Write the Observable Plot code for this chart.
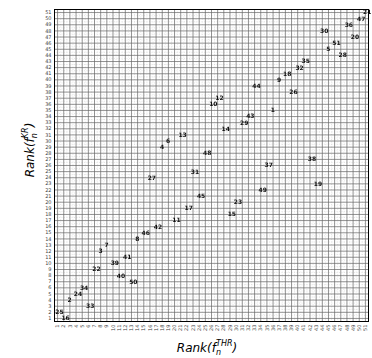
<!DOCTYPE html>
<html><head><meta charset="utf-8">
<script src="https://cdn.jsdelivr.net/npm/d3@7"></script>
<script src="https://cdn.jsdelivr.net/npm/@observablehq/plot@0.6"></script>
<style>body{margin:0;background:#fff} svg{display:block;font-family:"DejaVu Sans",sans-serif} .lbl{opacity:0.999;will-change:transform}</style>
</head><body><div id="chart"></div>
<script>
const ids = [1,2,3,4,5,6,7,8,9,10,11,12,13,14,15,16,17,18,19,20,21,22,23,24,25,26,27,28,29,30,31,32,33,34,35,36,37,38,39,40,41,42,43,44,45,46,47,48,49,50,51];
const rankTHR = [36,3,8,18,45,19,9,14,37,26,20,27,21,28,29,2,22,38,43,49,51,7,30,4,1,39,16,47,31,44,23,40,6,5,41,48,35,42,10,11,12,17,32,33,24,15,50,25,34,13,46];
const rankKR  = [35,4,12,29,45,30,13,14,40,36,17,37,31,32,18,1,19,41,23,47,51,9,20,5,2,38,24,44,33,48,25,42,3,6,43,49,26,27,10,8,11,16,34,39,21,15,50,28,22,7,46];
const tickValues = [1,2,3,4,5,6,7,8,9,10,11,12,13,14,15,16,17,18,19,20,21,22,23,24,25,26,27,28,29,30,31,32,33,34,35,36,37,38,39,40,41,42,43,44,45,46,47,48,49,50,51];
const minorValues = tickValues.slice(0,-1).map(v => v + 0.5);

const data = ids.map((id, i) => ({id, x: rankTHR[i], y: rankKR[i]}));

const chart = Plot.plot({
  width: 372, height: 358,
  marginLeft: 54, marginRight: 4, marginTop: 9, marginBottom: 37,
  style: {fontFamily: "DejaVu Sans", background: "#fff"},
  x: {domain: [0.5, 51.5], label: null},
  y: {domain: [0.5, 51.5], label: null},
  marks: [
    Plot.ruleX(minorValues, {stroke: "#ccc", strokeWidth: 0.5, strokeDasharray: "1,1.5"}),
    Plot.ruleY(minorValues, {stroke: "#ccc", strokeWidth: 0.5, strokeDasharray: "1,1.5"}),
    Plot.ruleX(tickValues, {stroke: "#666", strokeWidth: 0.7}),
    Plot.ruleY(tickValues, {stroke: "#666", strokeWidth: 0.7}),
    Plot.axisX({ticks: tickValues, tickSize: 0, tickPadding: 3, tickRotate: -90, fontSize: 5, fill: "#444", label: null}),
    Plot.axisY({ticks: tickValues, tickSize: 0, tickPadding: 3, fontSize: 5, fill: "#444", label: null}),
    Plot.frame({stroke: "#000", strokeWidth: 1}),
    Plot.text(data, {x: "x", y: "y", text: d => String(d.id), textAnchor: "start", dx: -2.3,
      fontSize: 6, fontWeight: "bold", fill: "#111", className: "lbl"})
  ]
});
document.getElementById("chart").appendChild(chart);

const svg = d3.select(chart);
function axisTitle(g, sup) {
  g.attr("font-size", 12).attr("font-style", "italic").attr("fill", "#000");
  g.append("tspan").text("Rank(f");
  g.append("tspan").attr("font-size", 8).attr("dy", 3).text("n");
  g.append("tspan").attr("font-size", 8).attr("dx", -5).attr("dy", -9).text(sup);
  g.append("tspan").attr("dy", 6).text(")");
}
axisTitle(svg.append("text").attr("x", 207).attr("y", 352).attr("text-anchor", "middle"), "THR");
axisTitle(svg.append("text").attr("transform", "translate(34,150) rotate(-90)").attr("text-anchor", "middle"), "KR");
</script></body></html>
